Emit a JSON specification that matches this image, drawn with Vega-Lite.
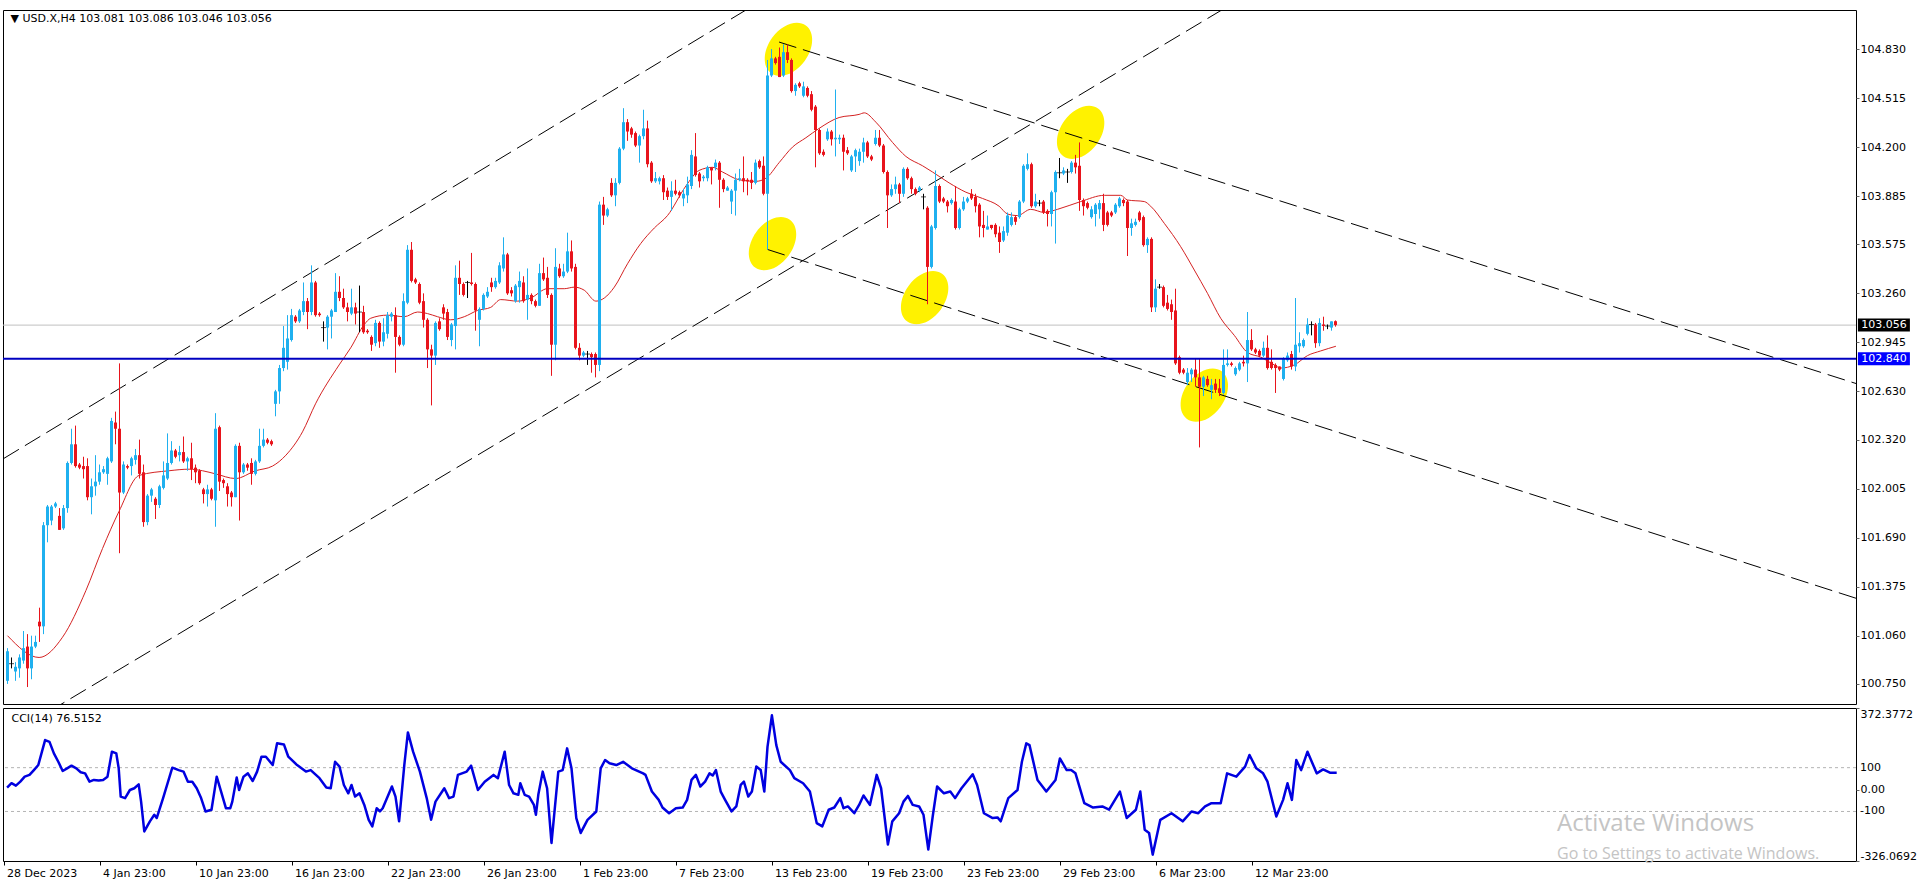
{
"$schema": "https://vega.github.io/schema/vega-lite/v6.json",
"background": "white",
"padding": {"left": 1, "top": 9, "right": 66, "bottom": 28},
"autosize": {"type": "pad"},
"spacing": 4,
"bounds": "flush",
"config": {
  "font": "DejaVu Sans",
  "view": {"stroke": "#000000", "strokeWidth": 1},
  "axis": {"labelFont": "DejaVu Sans", "labelFontSize": 11, "labelColor": "#000000", "tickColor": "#000000", "grid": false, "domain": false, "labelOverlap": false}
},
"datasets": {
"candles": [
{"i":0,"o":100.77,"h":100.98,"l":100.75,"c":100.96},
{"i":1,"o":100.88,"h":100.92,"l":100.85,"c":100.88},
{"i":2,"o":100.83,"h":100.89,"l":100.77,"c":100.86},
{"i":3,"o":100.85,"h":100.94,"l":100.79,"c":100.92},
{"i":4,"o":100.90,"h":101.09,"l":100.88,"c":100.98},
{"i":5,"o":100.99,"h":101.07,"l":100.73,"c":100.85},
{"i":6,"o":100.85,"h":101.06,"l":100.78,"c":100.99},
{"i":7,"o":100.99,"h":101.06,"l":100.98,"c":101.02},
{"i":8,"o":101.15,"h":101.24,"l":101.02,"c":101.12},
{"i":9,"o":101.12,"h":101.79,"l":101.07,"c":101.77},
{"i":10,"o":101.77,"h":101.90,"l":101.66,"c":101.89},
{"i":11,"o":101.80,"h":101.90,"l":101.77,"c":101.89},
{"i":12,"o":101.89,"h":101.92,"l":101.88,"c":101.91},
{"i":13,"o":101.83,"h":101.88,"l":101.74,"c":101.74},
{"i":14,"o":101.75,"h":101.90,"l":101.74,"c":101.88},
{"i":15,"o":101.88,"h":102.18,"l":101.85,"c":102.17},
{"i":16,"o":102.17,"h":102.39,"l":102.16,"c":102.29},
{"i":17,"o":102.29,"h":102.41,"l":102.14,"c":102.15},
{"i":18,"o":102.16,"h":102.17,"l":102.13,"c":102.14},
{"i":19,"o":102.15,"h":102.21,"l":102.07,"c":102.13},
{"i":20,"o":102.15,"h":102.20,"l":101.93,"c":101.95},
{"i":21,"o":101.95,"h":102.07,"l":101.84,"c":102.02},
{"i":22,"o":102.02,"h":102.22,"l":101.96,"c":102.05},
{"i":23,"o":102.05,"h":102.16,"l":102.03,"c":102.11},
{"i":24,"o":102.11,"h":102.15,"l":102.10,"c":102.13},
{"i":25,"o":102.10,"h":102.21,"l":102.03,"c":102.20},
{"i":26,"o":102.18,"h":102.46,"l":102.17,"c":102.44},
{"i":27,"o":102.43,"h":102.50,"l":102.29,"c":102.39},
{"i":28,"o":102.39,"h":102.81,"l":101.59,"c":101.98},
{"i":29,"o":101.98,"h":102.18,"l":101.97,"c":102.16},
{"i":30,"o":102.15,"h":102.16,"l":102.13,"c":102.14},
{"i":31,"o":102.15,"h":102.21,"l":102.09,"c":102.20},
{"i":32,"o":102.19,"h":102.26,"l":102.16,"c":102.22},
{"i":33,"o":102.22,"h":102.32,"l":102.07,"c":102.10},
{"i":34,"o":102.11,"h":102.16,"l":101.76,"c":101.79},
{"i":35,"o":101.79,"h":101.97,"l":101.77,"c":101.96},
{"i":36,"o":101.96,"h":102.01,"l":101.92,"c":102.00},
{"i":37,"o":101.94,"h":101.95,"l":101.81,"c":101.90},
{"i":38,"o":101.90,"h":102.03,"l":101.88,"c":102.02},
{"i":39,"o":102.01,"h":102.18,"l":102.00,"c":102.09},
{"i":40,"o":102.07,"h":102.36,"l":102.06,"c":102.17},
{"i":41,"o":102.17,"h":102.31,"l":102.16,"c":102.25},
{"i":42,"o":102.25,"h":102.26,"l":102.20,"c":102.21},
{"i":43,"o":102.22,"h":102.28,"l":102.18,"c":102.24},
{"i":44,"o":102.24,"h":102.34,"l":102.17,"c":102.18},
{"i":45,"o":102.18,"h":102.21,"l":102.12,"c":102.20},
{"i":46,"o":102.20,"h":102.30,"l":102.06,"c":102.13},
{"i":47,"o":102.14,"h":102.16,"l":102.04,"c":102.11},
{"i":48,"o":102.12,"h":102.13,"l":102.03,"c":102.04},
{"i":49,"o":102.00,"h":102.01,"l":101.91,"c":101.97},
{"i":50,"o":101.97,"h":102.03,"l":101.89,"c":102.00},
{"i":51,"o":102.00,"h":102.01,"l":101.93,"c":101.94},
{"i":52,"o":101.93,"h":102.49,"l":101.76,"c":102.39},
{"i":53,"o":102.40,"h":102.41,"l":101.99,"c":102.05},
{"i":54,"o":102.06,"h":102.07,"l":102.01,"c":102.04},
{"i":55,"o":102.02,"h":102.04,"l":101.89,"c":101.97},
{"i":56,"o":101.98,"h":101.99,"l":101.89,"c":101.95},
{"i":57,"o":101.95,"h":102.29,"l":101.95,"c":102.28},
{"i":58,"o":102.28,"h":102.30,"l":101.80,"c":102.11},
{"i":59,"o":102.11,"h":102.17,"l":102.10,"c":102.16},
{"i":60,"o":102.16,"h":102.17,"l":102.12,"c":102.14},
{"i":61,"o":102.17,"h":102.20,"l":102.03,"c":102.10},
{"i":62,"o":102.10,"h":102.19,"l":102.09,"c":102.18},
{"i":63,"o":102.18,"h":102.39,"l":102.17,"c":102.28},
{"i":64,"o":102.28,"h":102.39,"l":102.27,"c":102.32},
{"i":65,"o":102.32,"h":102.33,"l":102.29,"c":102.30},
{"i":66,"o":102.31,"h":102.32,"l":102.28,"c":102.29},
{"i":67,"o":102.55,"h":102.64,"l":102.47,"c":102.63},
{"i":68,"o":102.63,"h":102.80,"l":102.55,"c":102.78},
{"i":69,"o":102.78,"h":103.05,"l":102.76,"c":102.91},
{"i":70,"o":102.82,"h":103.12,"l":102.77,"c":102.97},
{"i":71,"o":102.96,"h":103.16,"l":102.95,"c":103.12},
{"i":72,"o":103.11,"h":103.12,"l":103.07,"c":103.08},
{"i":73,"o":103.08,"h":103.16,"l":103.07,"c":103.15},
{"i":74,"o":103.14,"h":103.33,"l":103.12,"c":103.21},
{"i":75,"o":103.21,"h":103.23,"l":103.03,"c":103.14},
{"i":76,"o":103.14,"h":103.44,"l":103.12,"c":103.33},
{"i":77,"o":103.33,"h":103.34,"l":103.11,"c":103.12},
{"i":78,"o":103.13,"h":103.14,"l":103.11,"c":103.12},
{"i":79,"o":103.04,"h":103.08,"l":102.95,"c":103.04},
{"i":80,"o":103.04,"h":103.12,"l":102.90,"c":103.11},
{"i":81,"o":103.11,"h":103.16,"l":102.97,"c":103.15},
{"i":82,"o":103.14,"h":103.39,"l":103.14,"c":103.27},
{"i":83,"o":103.27,"h":103.37,"l":103.21,"c":103.23},
{"i":84,"o":103.23,"h":103.29,"l":103.16,"c":103.17},
{"i":85,"o":103.17,"h":103.20,"l":103.08,"c":103.14},
{"i":86,"o":103.13,"h":103.29,"l":103.12,"c":103.17},
{"i":87,"o":103.17,"h":103.20,"l":103.06,"c":103.13},
{"i":88,"o":103.14,"h":103.31,"l":103.01,"c":103.14},
{"i":89,"o":103.14,"h":103.18,"l":103.00,"c":103.01},
{"i":90,"o":103.02,"h":103.03,"l":103.00,"c":103.01},
{"i":91,"o":102.98,"h":102.99,"l":102.89,"c":102.93},
{"i":92,"o":102.94,"h":103.09,"l":102.92,"c":103.07},
{"i":93,"o":103.07,"h":103.08,"l":102.91,"c":102.95},
{"i":94,"o":102.95,"h":103.10,"l":102.92,"c":103.01},
{"i":95,"o":103.00,"h":103.14,"l":102.97,"c":103.12},
{"i":96,"o":103.11,"h":103.14,"l":103.08,"c":103.13},
{"i":97,"o":103.12,"h":103.17,"l":102.75,"c":102.98},
{"i":98,"o":102.98,"h":102.99,"l":102.92,"c":102.93},
{"i":99,"o":102.93,"h":103.26,"l":102.92,"c":103.21},
{"i":100,"o":103.20,"h":103.57,"l":103.19,"c":103.54},
{"i":101,"o":103.54,"h":103.59,"l":103.33,"c":103.34},
{"i":102,"o":103.35,"h":103.36,"l":103.32,"c":103.33},
{"i":103,"o":103.32,"h":103.33,"l":103.19,"c":103.20},
{"i":104,"o":103.21,"h":103.26,"l":103.04,"c":103.09},
{"i":105,"o":103.09,"h":103.10,"l":102.78,"c":102.90},
{"i":106,"o":102.90,"h":102.93,"l":102.54,"c":102.86},
{"i":107,"o":102.86,"h":103.08,"l":102.80,"c":103.07},
{"i":108,"o":103.08,"h":103.10,"l":103.02,"c":103.03},
{"i":109,"o":103.17,"h":103.19,"l":103.09,"c":103.13},
{"i":110,"o":103.14,"h":103.16,"l":102.96,"c":102.98},
{"i":111,"o":102.96,"h":103.07,"l":102.92,"c":103.06},
{"i":112,"o":103.05,"h":103.44,"l":102.90,"c":103.36},
{"i":113,"o":103.36,"h":103.47,"l":103.25,"c":103.32},
{"i":114,"o":103.32,"h":103.33,"l":103.24,"c":103.25},
{"i":115,"o":103.33,"h":103.34,"l":103.23,"c":103.33},
{"i":116,"o":103.33,"h":103.52,"l":103.31,"c":103.32},
{"i":117,"o":103.32,"h":103.33,"l":103.02,"c":103.15},
{"i":118,"o":103.09,"h":103.17,"l":102.92,"c":103.16},
{"i":119,"o":103.16,"h":103.26,"l":103.15,"c":103.25},
{"i":120,"o":103.24,"h":103.30,"l":103.23,"c":103.27},
{"i":121,"o":103.33,"h":103.36,"l":103.27,"c":103.30},
{"i":122,"o":103.30,"h":103.36,"l":103.29,"c":103.34},
{"i":123,"o":103.33,"h":103.46,"l":103.32,"c":103.44},
{"i":124,"o":103.42,"h":103.62,"l":103.40,"c":103.51},
{"i":125,"o":103.51,"h":103.52,"l":103.25,"c":103.26},
{"i":126,"o":103.28,"h":103.30,"l":103.24,"c":103.26},
{"i":127,"o":103.21,"h":103.32,"l":103.20,"c":103.31},
{"i":128,"o":103.30,"h":103.40,"l":103.20,"c":103.34},
{"i":129,"o":103.33,"h":103.37,"l":103.20,"c":103.21},
{"i":130,"o":103.22,"h":103.42,"l":103.09,"c":103.25},
{"i":131,"o":103.25,"h":103.26,"l":103.19,"c":103.21},
{"i":132,"o":103.21,"h":103.22,"l":103.17,"c":103.18},
{"i":133,"o":103.18,"h":103.45,"l":103.18,"c":103.39},
{"i":134,"o":103.39,"h":103.49,"l":103.34,"c":103.35},
{"i":135,"o":103.36,"h":103.43,"l":103.23,"c":103.25},
{"i":136,"o":103.25,"h":103.26,"l":102.73,"c":102.93},
{"i":137,"o":102.93,"h":103.55,"l":102.83,"c":103.43},
{"i":138,"o":103.42,"h":103.45,"l":103.36,"c":103.37},
{"i":139,"o":103.37,"h":103.45,"l":103.36,"c":103.40},
{"i":140,"o":103.40,"h":103.65,"l":103.39,"c":103.53},
{"i":141,"o":103.53,"h":103.60,"l":103.40,"c":103.42},
{"i":142,"o":103.43,"h":103.45,"l":102.90,"c":102.91},
{"i":143,"o":102.91,"h":102.94,"l":102.83,"c":102.86},
{"i":144,"o":102.86,"h":102.89,"l":102.85,"c":102.88},
{"i":145,"o":102.87,"h":102.89,"l":102.80,"c":102.87},
{"i":146,"o":102.87,"h":102.88,"l":102.75,"c":102.85},
{"i":147,"o":102.87,"h":102.88,"l":102.72,"c":102.80},
{"i":148,"o":102.80,"h":103.85,"l":102.76,"c":103.83},
{"i":149,"o":103.83,"h":103.88,"l":103.70,"c":103.76},
{"i":150,"o":103.76,"h":103.81,"l":103.75,"c":103.80},
{"i":151,"o":103.97,"h":104.00,"l":103.88,"c":103.89},
{"i":152,"o":103.89,"h":104.00,"l":103.82,"c":103.97},
{"i":153,"o":103.97,"h":104.20,"l":103.96,"c":104.19},
{"i":154,"o":104.19,"h":104.45,"l":104.18,"c":104.36},
{"i":155,"o":104.36,"h":104.38,"l":104.24,"c":104.30},
{"i":156,"o":104.32,"h":104.33,"l":104.26,"c":104.28},
{"i":157,"o":104.29,"h":104.30,"l":104.20,"c":104.21},
{"i":158,"o":104.21,"h":104.28,"l":104.10,"c":104.27},
{"i":159,"o":104.27,"h":104.44,"l":104.25,"c":104.32},
{"i":160,"o":104.32,"h":104.37,"l":104.07,"c":104.09},
{"i":161,"o":104.10,"h":104.11,"l":103.97,"c":103.98},
{"i":162,"o":103.98,"h":104.04,"l":103.97,"c":104.00},
{"i":163,"o":103.98,"h":104.01,"l":103.96,"c":104.00},
{"i":164,"o":104.00,"h":104.02,"l":103.86,"c":103.91},
{"i":165,"o":103.92,"h":103.94,"l":103.86,"c":103.88},
{"i":166,"o":103.88,"h":103.98,"l":103.79,"c":103.92},
{"i":167,"o":103.92,"h":103.99,"l":103.89,"c":103.90},
{"i":168,"o":103.91,"h":103.92,"l":103.875,"c":103.89},
{"i":169,"o":103.87,"h":103.93,"l":103.82,"c":103.90},
{"i":170,"o":103.89,"h":104.01,"l":103.84,"c":103.96},
{"i":171,"o":103.95,"h":104.18,"l":103.93,"c":104.15},
{"i":172,"o":104.14,"h":104.29,"l":104.01,"c":104.02},
{"i":173,"o":104.03,"h":104.04,"l":103.94,"c":103.98},
{"i":174,"o":104.00,"h":104.02,"l":103.98,"c":104.01},
{"i":175,"o":104.00,"h":104.08,"l":103.98,"c":104.07},
{"i":176,"o":104.07,"h":104.07,"l":103.96,"c":104.05},
{"i":177,"o":104.07,"h":104.12,"l":104.05,"c":104.10},
{"i":178,"o":104.10,"h":104.11,"l":103.81,"c":103.99},
{"i":179,"o":103.99,"h":104.00,"l":103.91,"c":103.93},
{"i":180,"o":103.92,"h":103.95,"l":103.92,"c":103.94},
{"i":181,"o":103.85,"h":103.93,"l":103.77,"c":103.92},
{"i":182,"o":103.92,"h":104.03,"l":103.76,"c":103.99},
{"i":183,"o":103.99,"h":104.06,"l":103.98,"c":104.00},
{"i":184,"o":104.00,"h":104.14,"l":103.91,"c":103.98},
{"i":185,"o":103.99,"h":104.00,"l":103.89,"c":103.98},
{"i":186,"o":103.99,"h":104.04,"l":103.93,"c":103.97},
{"i":187,"o":103.97,"h":104.12,"l":103.96,"c":104.10},
{"i":188,"o":104.11,"h":104.12,"l":104.06,"c":104.07},
{"i":189,"o":104.08,"h":104.14,"l":103.89,"c":103.90},
{"i":190,"o":103.90,"h":104.76,"l":103.54,"c":104.66},
{"i":191,"o":104.66,"h":104.83,"l":104.65,"c":104.77},
{"i":192,"o":104.77,"h":104.78,"l":104.73,"c":104.74},
{"i":193,"o":104.78,"h":104.84,"l":104.65,"c":104.65},
{"i":194,"o":104.66,"h":104.86,"l":104.65,"c":104.81},
{"i":195,"o":104.81,"h":104.86,"l":104.74,"c":104.76},
{"i":196,"o":104.76,"h":104.77,"l":104.55,"c":104.56},
{"i":197,"o":104.56,"h":104.61,"l":104.53,"c":104.60},
{"i":198,"o":104.61,"h":104.62,"l":104.58,"c":104.59},
{"i":199,"o":104.53,"h":104.62,"l":104.52,"c":104.59},
{"i":200,"o":104.58,"h":104.59,"l":104.52,"c":104.53},
{"i":201,"o":104.54,"h":104.56,"l":104.43,"c":104.44},
{"i":202,"o":104.46,"h":104.47,"l":104.07,"c":104.31},
{"i":203,"o":104.31,"h":104.32,"l":104.15,"c":104.16},
{"i":204,"o":104.17,"h":104.185,"l":104.14,"c":104.15},
{"i":205,"o":104.25,"h":104.32,"l":104.24,"c":104.30},
{"i":206,"o":104.30,"h":104.31,"l":104.21,"c":104.25},
{"i":207,"o":104.25,"h":104.57,"l":104.14,"c":104.26},
{"i":208,"o":104.25,"h":104.28,"l":104.22,"c":104.26},
{"i":209,"o":104.26,"h":104.28,"l":104.05,"c":104.17},
{"i":210,"o":104.18,"h":104.20,"l":104.15,"c":104.16},
{"i":211,"o":104.05,"h":104.15,"l":104.04,"c":104.14},
{"i":212,"o":104.14,"h":104.19,"l":104.04,"c":104.18},
{"i":213,"o":104.11,"h":104.19,"l":104.08,"c":104.17},
{"i":214,"o":104.17,"h":104.26,"l":104.10,"c":104.23},
{"i":215,"o":104.23,"h":104.24,"l":104.13,"c":104.14},
{"i":216,"o":104.14,"h":104.15,"l":104.11,"c":104.12},
{"i":217,"o":104.22,"h":104.31,"l":104.21,"c":104.26},
{"i":218,"o":104.26,"h":104.31,"l":104.20,"c":104.21},
{"i":219,"o":104.21,"h":104.22,"l":104.03,"c":104.04},
{"i":220,"o":104.04,"h":104.05,"l":103.68,"c":103.89},
{"i":221,"o":103.89,"h":103.96,"l":103.88,"c":103.93},
{"i":222,"o":103.93,"h":104.01,"l":103.90,"c":103.96},
{"i":223,"o":103.96,"h":103.97,"l":103.84,"c":103.90},
{"i":224,"o":103.90,"h":104.07,"l":103.88,"c":104.06},
{"i":225,"o":104.06,"h":104.07,"l":103.99,"c":104.00},
{"i":226,"o":104.00,"h":104.01,"l":103.90,"c":103.93},
{"i":227,"o":103.93,"h":103.94,"l":103.89,"c":103.90},
{"i":228,"o":103.92,"h":103.95,"l":103.91,"c":103.94},
{"i":229,"o":103.88,"h":103.90,"l":103.80,"c":103.88},
{"i":230,"o":103.81,"h":103.82,"l":103.19,"c":103.43},
{"i":231,"o":103.43,"h":103.70,"l":103.42,"c":103.69},
{"i":232,"o":103.68,"h":104.05,"l":103.67,"c":103.95},
{"i":233,"o":103.95,"h":103.96,"l":103.84,"c":103.85},
{"i":234,"o":103.87,"h":103.88,"l":103.84,"c":103.85},
{"i":235,"o":103.85,"h":103.86,"l":103.78,"c":103.82},
{"i":236,"o":103.84,"h":103.87,"l":103.83,"c":103.86},
{"i":237,"o":103.85,"h":103.95,"l":103.67,"c":103.68},
{"i":238,"o":103.68,"h":103.81,"l":103.67,"c":103.80},
{"i":239,"o":103.80,"h":103.88,"l":103.79,"c":103.85},
{"i":240,"o":103.85,"h":103.88,"l":103.84,"c":103.87},
{"i":241,"o":103.90,"h":103.93,"l":103.86,"c":103.87},
{"i":242,"o":103.88,"h":103.90,"l":103.78,"c":103.82},
{"i":243,"o":103.83,"h":103.84,"l":103.62,"c":103.69},
{"i":244,"o":103.70,"h":103.79,"l":103.62,"c":103.68},
{"i":245,"o":103.67,"h":103.76,"l":103.67,"c":103.69},
{"i":246,"o":103.70,"h":103.70,"l":103.67,"c":103.68},
{"i":247,"o":103.70,"h":103.71,"l":103.62,"c":103.64},
{"i":248,"o":103.65,"h":103.69,"l":103.52,"c":103.59},
{"i":249,"o":103.60,"h":103.69,"l":103.59,"c":103.66},
{"i":250,"o":103.65,"h":103.78,"l":103.63,"c":103.76},
{"i":251,"o":103.70,"h":103.78,"l":103.69,"c":103.75},
{"i":252,"o":103.75,"h":103.76,"l":103.70,"c":103.72},
{"i":253,"o":103.75,"h":103.86,"l":103.74,"c":103.85},
{"i":254,"o":103.85,"h":104.09,"l":103.84,"c":104.08},
{"i":255,"o":104.06,"h":104.16,"l":104.05,"c":104.09},
{"i":256,"o":104.09,"h":104.10,"l":103.81,"c":103.82},
{"i":257,"o":103.82,"h":103.90,"l":103.81,"c":103.85},
{"i":258,"o":103.84,"h":103.86,"l":103.82,"c":103.84},
{"i":259,"o":103.85,"h":103.86,"l":103.77,"c":103.78},
{"i":260,"o":103.79,"h":103.80,"l":103.69,"c":103.77},
{"i":261,"o":103.77,"h":103.92,"l":103.69,"c":103.91},
{"i":262,"o":103.91,"h":104.05,"l":103.58,"c":104.04},
{"i":263,"o":104.035,"h":104.13,"l":104.00,"c":104.035},
{"i":264,"o":104.03,"h":104.07,"l":104.02,"c":104.05},
{"i":265,"o":104.04,"h":104.06,"l":103.97,"c":104.04},
{"i":266,"o":104.04,"h":104.11,"l":104.03,"c":104.10},
{"i":267,"o":104.10,"h":104.15,"l":104.03,"c":104.07},
{"i":268,"o":104.08,"h":104.23,"l":103.79,"c":103.86},
{"i":269,"o":103.86,"h":103.87,"l":103.76,"c":103.82},
{"i":270,"o":103.84,"h":103.85,"l":103.80,"c":103.81},
{"i":271,"o":103.75,"h":103.82,"l":103.74,"c":103.80},
{"i":272,"o":103.77,"h":103.84,"l":103.69,"c":103.83},
{"i":273,"o":103.80,"h":103.86,"l":103.74,"c":103.84},
{"i":274,"o":103.84,"h":103.90,"l":103.66,"c":103.70},
{"i":275,"o":103.78,"h":103.79,"l":103.69,"c":103.70},
{"i":276,"o":103.78,"h":103.79,"l":103.75,"c":103.76},
{"i":277,"o":103.78,"h":103.84,"l":103.77,"c":103.83},
{"i":278,"o":103.82,"h":103.88,"l":103.81,"c":103.87},
{"i":279,"o":103.86,"h":103.87,"l":103.82,"c":103.84},
{"i":280,"o":103.85,"h":103.86,"l":103.50,"c":103.68},
{"i":281,"o":103.68,"h":103.74,"l":103.63,"c":103.71},
{"i":282,"o":103.70,"h":103.74,"l":103.69,"c":103.72},
{"i":283,"o":103.78,"h":103.79,"l":103.72,"c":103.73},
{"i":284,"o":103.75,"h":103.76,"l":103.56,"c":103.57},
{"i":285,"o":103.57,"h":103.62,"l":103.52,"c":103.61},
{"i":286,"o":103.61,"h":103.62,"l":103.14,"c":103.17},
{"i":287,"o":103.17,"h":103.35,"l":103.14,"c":103.29},
{"i":288,"o":103.30,"h":103.32,"l":103.29,"c":103.30},
{"i":289,"o":103.30,"h":103.31,"l":103.17,"c":103.18},
{"i":290,"o":103.20,"h":103.25,"l":103.15,"c":103.16},
{"i":291,"o":103.19,"h":103.22,"l":103.09,"c":103.14},
{"i":292,"o":103.15,"h":103.29,"l":102.80,"c":102.81},
{"i":293,"o":102.85,"h":102.86,"l":102.74,"c":102.75},
{"i":294,"o":102.77,"h":102.78,"l":102.74,"c":102.75},
{"i":295,"o":102.69,"h":102.78,"l":102.67,"c":102.75},
{"i":296,"o":102.74,"h":102.78,"l":102.69,"c":102.77},
{"i":297,"o":102.77,"h":102.84,"l":102.66,"c":102.72},
{"i":298,"o":102.72,"h":102.84,"l":102.27,"c":102.66},
{"i":299,"o":102.66,"h":102.73,"l":102.60,"c":102.72},
{"i":300,"o":102.71,"h":102.73,"l":102.66,"c":102.67},
{"i":301,"o":102.64,"h":102.71,"l":102.58,"c":102.67},
{"i":302,"o":102.68,"h":102.71,"l":102.62,"c":102.64},
{"i":303,"o":102.65,"h":102.71,"l":102.60,"c":102.62},
{"i":304,"o":102.62,"h":102.90,"l":102.61,"c":102.80},
{"i":305,"o":102.80,"h":102.90,"l":102.79,"c":102.81},
{"i":306,"o":102.81,"h":102.82,"l":102.79,"c":102.80},
{"i":307,"o":102.74,"h":102.79,"l":102.73,"c":102.78},
{"i":308,"o":102.77,"h":102.82,"l":102.76,"c":102.81},
{"i":309,"o":102.82,"h":102.86,"l":102.79,"c":102.81},
{"i":310,"o":102.81,"h":103.14,"l":102.69,"c":102.96},
{"i":311,"o":102.96,"h":103.03,"l":102.89,"c":102.90},
{"i":312,"o":102.90,"h":102.91,"l":102.87,"c":102.88},
{"i":313,"o":102.89,"h":102.90,"l":102.85,"c":102.86},
{"i":314,"o":102.86,"h":102.95,"l":102.85,"c":102.91},
{"i":315,"o":102.91,"h":102.99,"l":102.77,"c":102.78},
{"i":316,"o":102.82,"h":102.90,"l":102.77,"c":102.78},
{"i":317,"o":102.80,"h":102.81,"l":102.62,"c":102.78},
{"i":318,"o":102.79,"h":102.79,"l":102.76,"c":102.77},
{"i":319,"o":102.71,"h":102.85,"l":102.70,"c":102.84},
{"i":320,"o":102.83,"h":102.88,"l":102.82,"c":102.86},
{"i":321,"o":102.87,"h":102.89,"l":102.77,"c":102.79},
{"i":322,"o":102.79,"h":103.23,"l":102.76,"c":102.93},
{"i":323,"o":102.92,"h":103.01,"l":102.88,"c":102.94},
{"i":324,"o":102.92,"h":102.97,"l":102.91,"c":102.96},
{"i":325,"o":103.00,"h":103.10,"l":102.99,"c":103.06},
{"i":326,"o":103.06,"h":103.08,"l":102.99,"c":103.06},
{"i":327,"o":103.06,"h":103.07,"l":102.91,"c":102.94},
{"i":328,"o":102.94,"h":103.10,"l":102.92,"c":103.07},
{"i":329,"o":103.06,"h":103.11,"l":103.02,"c":103.05},
{"i":330,"o":103.05,"h":103.06,"l":103.03,"c":103.05},
{"i":331,"o":103.04,"h":103.08,"l":103.02,"c":103.08},
{"i":332,"o":103.081,"h":103.086,"l":103.046,"c":103.056}
],
"ma": [
{"i":0,"v":101.06},{"i":7.9,"v":100.92},{"i":13.75,"v":101.05},{"i":19.6,"v":101.35},{"i":23.75,"v":101.62},{"i":27.9,"v":101.86},{"i":32.9,"v":102.09},{"i":40.4,"v":102.12},{"i":45.4,"v":102.13},{"i":48.75,"v":102.12},{"i":52,"v":102.10},{"i":57,"v":102.07},{"i":62,"v":102.12},{"i":66.25,"v":102.15},{"i":69.6,"v":102.22},{"i":73.75,"v":102.37},{"i":77,"v":102.55},{"i":82.9,"v":102.80},
{"i":85.8,"v":102.91},{"i":89.2,"v":103.06},{"i":90.8,"v":103.10},{"i":95,"v":103.12},{"i":99.2,"v":103.11},{"i":102.5,"v":103.14},{"i":105,"v":103.13},{"i":107.5,"v":103.11},{"i":110.8,"v":103.09},{"i":114.2,"v":103.11},{"i":117.5,"v":103.15},{"i":120.8,"v":103.17},{"i":123.3,"v":103.22},{"i":127.5,"v":103.21},{"i":130.8,"v":103.23},{"i":135,"v":103.29},{"i":139.2,"v":103.29},{"i":141.7,"v":103.30},{"i":144.2,"v":103.28},{"i":147.1,"v":103.21},{"i":149.2,"v":103.23},{"i":151.7,"v":103.30},{"i":155,"v":103.45},{"i":158.3,"v":103.58},{"i":161.7,"v":103.68},{"i":165,"v":103.76},
{"i":169.6,"v":103.95},{"i":172.9,"v":104.05},{"i":176.25,"v":104.07},{"i":178.75,"v":104.04},{"i":182.9,"v":103.99},{"i":187.1,"v":103.98},{"i":189.6,"v":104.00},{"i":192.9,"v":104.10},{"i":196.25,"v":104.20},{"i":199.6,"v":104.26},{"i":202.9,"v":104.32},{"i":207.9,"v":104.39},{"i":212.9,"v":104.41},{"i":214.2,"v":104.42},{"i":217.1,"v":104.36},{"i":221.25,"v":104.23},{"i":224.6,"v":104.14},{"i":228.75,"v":104.08},{"i":231.25,"v":104.04},{"i":235.4,"v":103.97},{"i":239.6,"v":103.91},{"i":243.75,"v":103.87},{"i":247.9,"v":103.82},
{"i":250,"v":103.77},{"i":252.5,"v":103.76},{"i":255.8,"v":103.80},{"i":259.2,"v":103.78},{"i":262.5,"v":103.80},{"i":268.3,"v":103.85},{"i":274.2,"v":103.89},{"i":278.3,"v":103.89},{"i":280,"v":103.86},{"i":284.2,"v":103.85},{"i":285.8,"v":103.82},{"i":289.2,"v":103.71},{"i":293.3,"v":103.56},{"i":296.7,"v":103.41},{"i":300,"v":103.26},{"i":303.3,"v":103.10},{"i":306.7,"v":102.99},{"i":310,"v":102.88},{"i":313.3,"v":102.85},{"i":316.7,"v":102.80},{"i":318.3,"v":102.78},{"i":321.7,"v":102.80},{"i":325,"v":102.86},{"i":328.3,"v":102.89},{"i":332.1,"v":102.92}
],
"cci": [
{"i":-0.1,"v":9},{"i":1.0,"v":29},{"i":2.1,"v":18},{"i":3.2,"v":36},{"i":4.3,"v":59},{"i":5.5,"v":67},{"i":6.6,"v":89},{"i":7.7,"v":112},{"i":9.4,"v":226},{"i":10.5,"v":218},{"i":11.6,"v":165},{"i":12.7,"v":127},{"i":13.8,"v":85},{"i":14.9,"v":97},{"i":16.0,"v":109},{"i":17.2,"v":97},{"i":18.3,"v":79},{"i":19.4,"v":74},{"i":20.5,"v":36},{"i":21.6,"v":44},{"i":22.8,"v":41},{"i":23.9,"v":44},{"i":25.0,"v":59},{"i":26.1,"v":173},{"i":27.2,"v":165},{"i":27.8,"v":97},{"i":28.3,"v":-32},{"i":29.4,"v":-39},{"i":30.6,"v":-2},{"i":31.7,"v":6},{"i":32.8,"v":24},{"i":33.4,"v":-55},{"i":34.2,"v":-191},{"i":35.6,"v":-145},{"i":36.7,"v":-115},{"i":37.3,"v":-130},{"i":38.9,"v":-39},{"i":41.2,"v":100},{"i":42.8,"v":89},{"i":44.0,"v":82},{"i":45.1,"v":36},{"i":46.2,"v":36},{"i":47.3,"v":6},{"i":48.4,"v":-39},{"i":49.5,"v":-100},{"i":51.0,"v":-92},{"i":52.3,"v":59},{"i":53.4,"v":-9},{"i":54.6,"v":-85},{"i":55.7,"v":-85},{"i":56.2,"v":-55},{"i":57.3,"v":55},{"i":57.9,"v":-2},{"i":59.0,"v":59},{"i":60.1,"v":74},{"i":61.3,"v":39},{"i":62.4,"v":82},{"i":63.5,"v":150},{"i":64.6,"v":150},{"i":66.3,"v":112},{"i":67.4,"v":211},{"i":69.1,"v":206},{"i":70.2,"v":150},{"i":72.4,"v":112},{"i":74.6,"v":82},{"i":75.8,"v":89},{"i":78.0,"v":52},{"i":79.7,"v":9},{"i":80.8,"v":6},{"i":81.9,"v":127},{"i":83.0,"v":105},{"i":84.1,"v":21},{"i":85.2,"v":-17},{"i":86.0,"v":21},{"i":86.9,"v":-32},{"i":88.0,"v":-17},{"i":89.2,"v":-70},{"i":90.3,"v":-138},{"i":91.2,"v":-168},{"i":92.3,"v":-85},{"i":93.1,"v":-100},{"i":93.8,"v":-85},{"i":96.1,"v":14},{"i":97.0,"v":-32},{"i":97.9,"v":-145},{"i":99.2,"v":112},{"i":100.1,"v":261},{"i":101.4,"v":173},{"i":103.1,"v":82},{"i":104.8,"v":-39},{"i":105.9,"v":-138},{"i":107.0,"v":-55},{"i":109.2,"v":6},{"i":110.4,"v":-39},{"i":111.5,"v":-32},{"i":112.6,"v":67},{"i":114.8,"v":82},{"i":115.9,"v":109},{"i":117.6,"v":-2},{"i":119.3,"v":36},{"i":121.5,"v":67},{"i":122.6,"v":52},{"i":124.3,"v":173},{"i":125.4,"v":21},{"i":126.5,"v":-17},{"i":127.7,"v":-24},{"i":128.2,"v":29},{"i":129.3,"v":-24},{"i":130.4,"v":-32},{"i":131.6,"v":-70},{"i":132.1,"v":-115},{"i":132.7,"v":-24},{"i":133.8,"v":82},{"i":134.9,"v":6},{"i":136.0,"v":-244},{"i":137.7,"v":82},{"i":138.8,"v":89},{"i":139.9,"v":188},{"i":141.0,"v":97},{"i":142.2,"v":-130},{"i":143.3,"v":-198},{"i":145.0,"v":-138},{"i":147.2,"v":-100},{"i":148.3,"v":97},{"i":149.4,"v":135},{"i":150.5,"v":120},{"i":152.2,"v":112},{"i":153.9,"v":127},{"i":156.1,"v":97},{"i":158.9,"v":74},{"i":159.5,"v":67},{"i":161.1,"v":-9},{"i":162.8,"v":-47},
{"i":163.75,"v":-82},{"i":165.4,"v":-108},{"i":167.1,"v":-85},{"i":168.8,"v":-82},{"i":169.9,"v":-47},{"i":171.0,"v":44},{"i":172.1,"v":67},{"i":173.2,"v":14},{"i":174.4,"v":36},{"i":175.5,"v":74},{"i":176.3,"v":64},{"i":177.1,"v":89},{"i":178.3,"v":-9},{"i":179.4,"v":-47},{"i":181.0,"v":-100},{"i":182.2,"v":-77},{"i":183.3,"v":21},{"i":184.1,"v":36},{"i":185.2,"v":-32},{"i":186.1,"v":-9},{"i":187.2,"v":105},{"i":188.3,"v":89},{"i":189.2,"v":-9},{"i":190.0,"v":195},{"i":191.1,"v":339},{"i":192.2,"v":203},{"i":193.3,"v":127},{"i":195.6,"v":89},{"i":196.7,"v":52},{"i":198.9,"v":29},{"i":200.6,"v":-9},{"i":202.3,"v":-153},{"i":203.7,"v":-168},{"i":205.3,"v":-92},{"i":206.7,"v":-82},{"i":208.2,"v":-39},{"i":209.0,"v":-85},{"i":210.1,"v":-77},{"i":211.7,"v":-108},{"i":212.9,"v":-70},{"i":214.0,"v":-27},{"i":215.6,"v":-70},{"i":217.3,"v":67},{"i":218.4,"v":6},{"i":220.1,"v":-251},{"i":221.2,"v":-145},{"i":222.9,"v":-108},{"i":224.0,"v":-55},{"i":225.1,"v":-29},{"i":226.3,"v":-70},{"i":227.9,"v":-77},{"i":229.0,"v":-115},{"i":230.2,"v":-274},{"i":231.3,"v":-123},{"i":232.4,"v":14},{"i":234.1,"v":-17},{"i":235.7,"v":-9},{"i":236.9,"v":-39},{"i":238.5,"v":6},{"i":241.3,"v":70},{"i":242.4,"v":21},{"i":244.1,"v":-108},{"i":246.3,"v":-130},{"i":247.5,"v":-127},{"i":248.3,"v":-145},{"i":250.2,"v":-39},{"i":252.5,"v":-2},{"i":253.6,"v":127},{"i":254.7,"v":211},{"i":255.5,"v":203},{"i":257.5,"v":44},{"i":259.7,"v":-9},{"i":262.0,"v":44},{"i":263.1,"v":142},{"i":264.8,"v":89},{"i":265.9,"v":89},{"i":267.0,"v":74},{"i":269.2,"v":-62},{"i":271.4,"v":-82},{"i":273.7,"v":-77},{"i":275.4,"v":-92},{"i":278.1,"v":-9},{"i":279.8,"v":-130},{"i":282.1,"v":-92},{"i":283.2,"v":-9},{"i":284.3,"v":-183},{"i":285.4,"v":-198},{"i":286.3,"v":-297},{"i":288.2,"v":-138},{"i":291.0,"v":-108},{"i":293.8,"v":-145},{"i":296.0,"v":-100},{"i":297.7,"v":-108},{"i":299.4,"v":-77},{"i":301.0,"v":-62},{"i":303.3,"v":-62},{"i":304.9,"v":74},{"i":307.2,"v":59},{"i":309.4,"v":105},{"i":310.5,"v":158},{"i":312.2,"v":97},{"i":313.9,"v":74},{"i":315.0,"v":36},{"i":317.2,"v":-123},{"i":318.9,"v":-47},{"i":320.0,"v":29},{"i":321.1,"v":-47},{"i":322.2,"v":135},{"i":323.4,"v":89},{"i":325.0,"v":173},{"i":327.3,"v":74},{"i":328.9,"v":92},{"i":330.6,"v":77},{"i":332.3,"v":77}
],
"lines": [
{"id":"a","i":-1,"p":102.198},{"id":"a","i":200,"p":105.32},
{"id":"b","i":5,"p":100.49},{"id":"b","i":310,"p":105.18},
{"id":"c","i":192.9,"p":104.875},{"id":"c","i":462.2,"p":102.68},
{"id":"d","i":190,"p":103.542},{"id":"d","i":462.2,"p":101.30}
],
"ellipses": [
{"i":195.25,"p":104.828},{"i":191.25,"p":103.579},{"i":229.3,"p":103.232},{"i":268.3,"p":104.295},{"i":299.2,"p":102.606}
]
},
"vconcat": [
{
"width": 1853,
"height": 694,
"layer": [
{
  "data": {"name": "ellipses"},
  "mark": {"type": "point", "shape": "M0,-1A0.678,1,0,1,1,0,1A0.678,1,0,1,1,0,-1Z", "size": 3481, "angle": 36, "filled": true, "fill": "#fff200", "stroke": null, "opacity": 1},
  "encoding": {
    "x": {"field": "i", "type": "quantitative", "scale": {"domain": [-1.125, 462.125], "nice": false, "zero": false}, "axis": null, "title": null},
    "y": {"field": "p", "type": "quantitative", "scale": {"domain": [100.621, 105.081], "nice": false, "zero": false}, "title": null,
      "axis": {"orient": "right", "values": [104.83, 104.515, 104.2, 103.885, 103.575, 103.26, 102.945, 102.63, 102.32, 102.005, 101.69, 101.375, 101.06, 100.75], "format": ".3f", "tickSize": 3, "tickColor": "#666666", "labelPadding": 1, "labelOverlap": false, "labelFlush": false, "labelBound": false, "title": null}}
  }
},
{
  "data": {"values": [{"p": 103.056}]},
  "mark": {"type": "rule", "color": "#c0c0c0", "strokeWidth": 1},
  "encoding": {"y": {"field": "p", "type": "quantitative", "title": null}}
},
{
  "data": {"name": "lines"},
  "mark": {"type": "line", "color": "#000000", "strokeWidth": 1, "strokeDash": [18, 7], "clip": true},
  "encoding": {
    "x": {"field": "i", "type": "quantitative", "axis": null, "title": null},
    "y": {"field": "p", "type": "quantitative", "title": null},
    "detail": {"field": "id"}
  }
},
{
  "data": {"name": "ma"},
  "mark": {"type": "line", "color": "#d42222", "strokeWidth": 1, "interpolate": "monotone"},
  "encoding": {
    "x": {"field": "i", "type": "quantitative", "axis": null, "title": null},
    "y": {"field": "v", "type": "quantitative", "title": null}
  }
},
{
  "data": {"name": "candles"},
  "mark": {"type": "rule", "strokeWidth": 1},
  "encoding": {
    "x": {"field": "i", "type": "quantitative", "axis": null, "title": null},
    "y": {"field": "l", "type": "quantitative", "title": null},
    "y2": {"field": "h"},
    "color": {"condition": [{"test": "datum.c > datum.o", "value": "#1fb0ef"}, {"test": "datum.c < datum.o", "value": "#e8141c"}], "value": "#000000"}
  }
},
{
  "data": {"name": "candles"},
  "mark": {"type": "rule", "strokeWidth": 3, "strokeCap": "butt"},
  "encoding": {
    "x": {"field": "i", "type": "quantitative", "axis": null, "title": null},
    "y": {"field": "o", "type": "quantitative", "title": null},
    "y2": {"field": "c"},
    "color": {"condition": [{"test": "datum.c > datum.o", "value": "#1fb0ef"}, {"test": "datum.c < datum.o", "value": "#e8141c"}], "value": "#000000"}
  }
},
{
  "data": {"name": "candles"},
  "transform": [{"filter": "datum.o == datum.c"}],
  "mark": {"type": "tick", "orient": "horizontal", "size": 5, "thickness": 1, "color": "#000000"},
  "encoding": {
    "x": {"field": "i", "type": "quantitative", "axis": null, "title": null},
    "y": {"field": "o", "type": "quantitative", "title": null}
  }
},
{
  "data": {"values": [{"p": 102.84}]},
  "mark": {"type": "rule", "color": "#0000c0", "strokeWidth": 2},
  "encoding": {"y": {"field": "p", "type": "quantitative", "title": null}}
},
{
  "data": {"values": [{"p": 103.056, "kind": "bid"}, {"p": 102.84, "kind": "line"}]},
  "mark": {"type": "point", "shape": "M-1,-0.25H1V0.25H-1Z", "size": 2704, "filled": true, "opacity": 1, "clip": false},
  "encoding": {
    "x": {"datum": 469.1, "type": "quantitative", "axis": null, "title": null},
    "y": {"field": "p", "type": "quantitative", "title": null},
    "color": {"condition": {"test": "datum.kind == 'bid'", "value": "#000000"}, "value": "#0000ff"}
  }
},
{
  "data": {"values": [{"p": 103.056, "label": "103.056"}, {"p": 102.84, "label": "102.840"}]},
  "mark": {"type": "text", "color": "#ffffff", "fontSize": 11, "align": "center", "baseline": "middle", "clip": false},
  "encoding": {
    "x": {"datum": 469.1, "type": "quantitative", "axis": null, "title": null},
    "y": {"field": "p", "type": "quantitative", "title": null},
    "text": {"field": "label"}
  }
},
{
  "data": {"values": [{"label": "▼ USD.X,H4  103.081 103.086 103.046 103.056"}]},
  "mark": {"type": "text", "color": "#000000", "fontSize": 11, "align": "left", "baseline": "middle"},
  "encoding": {
    "x": {"datum": 0.75, "type": "quantitative", "axis": null, "title": null},
    "y": {"datum": 105.023, "type": "quantitative", "title": null},
    "text": {"field": "label"}
  }
}
]
},
{
"width": 1853,
"height": 153,
"layer": [
{
  "data": {"values": [{"v": 100}, {"v": -100}]},
  "mark": {"type": "rule", "color": "#b4b4b4", "strokeWidth": 1, "strokeDash": [3, 3]},
  "encoding": {"y": {"field": "v", "type": "quantitative", "title": null, "scale": {"domain": [-326.0692, 372.3772], "nice": false, "zero": false},
    "axis": {"orient": "right", "values": [372.3772, 100, 0, -100, -326.0692], "labelExpr": "datum.value > 300 ? '372.3772' : datum.value < -300 ? '-326.0692' : datum.value == 0 ? '0.00' : ''", "tickSize": 3, "tickColor": "#666666", "labelPadding": 1, "labelOverlap": false, "labelFlush": false, "labelBound": false, "labelBaseline": {"condition": [{"test": "datum.value > 300", "value": "top"}, {"test": "datum.value < -300", "value": "bottom"}], "value": "middle"}, "title": null}}}
},
{
  "data": {"values": [{"v": 100, "label": "100"}, {"v": -100, "label": "-100"}]},
  "mark": {"type": "text", "color": "#000000", "fontSize": 11, "align": "left", "baseline": "middle", "dx": 4, "clip": false},
  "encoding": {
    "x": {"datum": 462.125, "type": "quantitative", "title": null},
    "y": {"field": "v", "type": "quantitative", "title": null},
    "text": {"field": "label"}
  }
},
{
  "data": {"name": "cci"},
  "mark": {"type": "line", "color": "#0000e0", "strokeWidth": 2.5, "strokeJoin": "round"},
  "encoding": {
    "x": {"field": "i", "type": "quantitative", "scale": {"domain": [-1.125, 462.125], "nice": false, "zero": false}, "title": null,
      "axis": {"orient": "bottom", "values": [-1, 23, 47, 71, 95, 119, 143, 167, 191, 215, 239, 263, 287, 311],
        "labelExpr": "['28 Dec 2023','4 Jan 23:00','10 Jan 23:00','16 Jan 23:00','22 Jan 23:00','26 Jan 23:00','1 Feb 23:00','7 Feb 23:00','13 Feb 23:00','19 Feb 23:00','23 Feb 23:00','29 Feb 23:00','6 Mar 23:00','12 Mar 23:00'][round((datum.value + 1) / 24)]",
        "labelAlign": "left", "labelOffset": 3, "labelPadding": 2, "tickSize": 4, "labelOverlap": false, "labelFlush": false, "labelBound": false, "title": null}},
    "y": {"field": "v", "type": "quantitative", "title": null}
  }
},
{
  "data": {"values": [{"label": "CCI(14) 76.5152"}]},
  "mark": {"type": "text", "color": "#000000", "fontSize": 11, "align": "left", "baseline": "middle"},
  "encoding": {
    "x": {"datum": 1, "type": "quantitative", "title": null},
    "y": {"datum": 323, "type": "quantitative", "title": null},
    "text": {"field": "label"}
  }
},
{
  "data": {"values": [{"label": "Activate Windows"}]},
  "mark": {"type": "text", "color": "#c4c4c4", "font": "Open Sans", "fontSize": 24, "align": "left", "baseline": "middle", "clip": false},
  "encoding": {
    "x": {"datum": 387.4, "type": "quantitative", "title": null},
    "y": {"datum": -157, "type": "quantitative", "title": null},
    "text": {"field": "label"}
  }
},
{
  "data": {"values": [{"label": "Go to Settings to activate Windows."}]},
  "mark": {"type": "text", "color": "#c4c4c4", "font": "Open Sans", "fontSize": 16, "align": "left", "baseline": "middle", "clip": false},
  "encoding": {
    "x": {"datum": 387.4, "type": "quantitative", "title": null},
    "y": {"datum": -294, "type": "quantitative", "title": null},
    "text": {"field": "label"}
  }
}
]
}
]
}
